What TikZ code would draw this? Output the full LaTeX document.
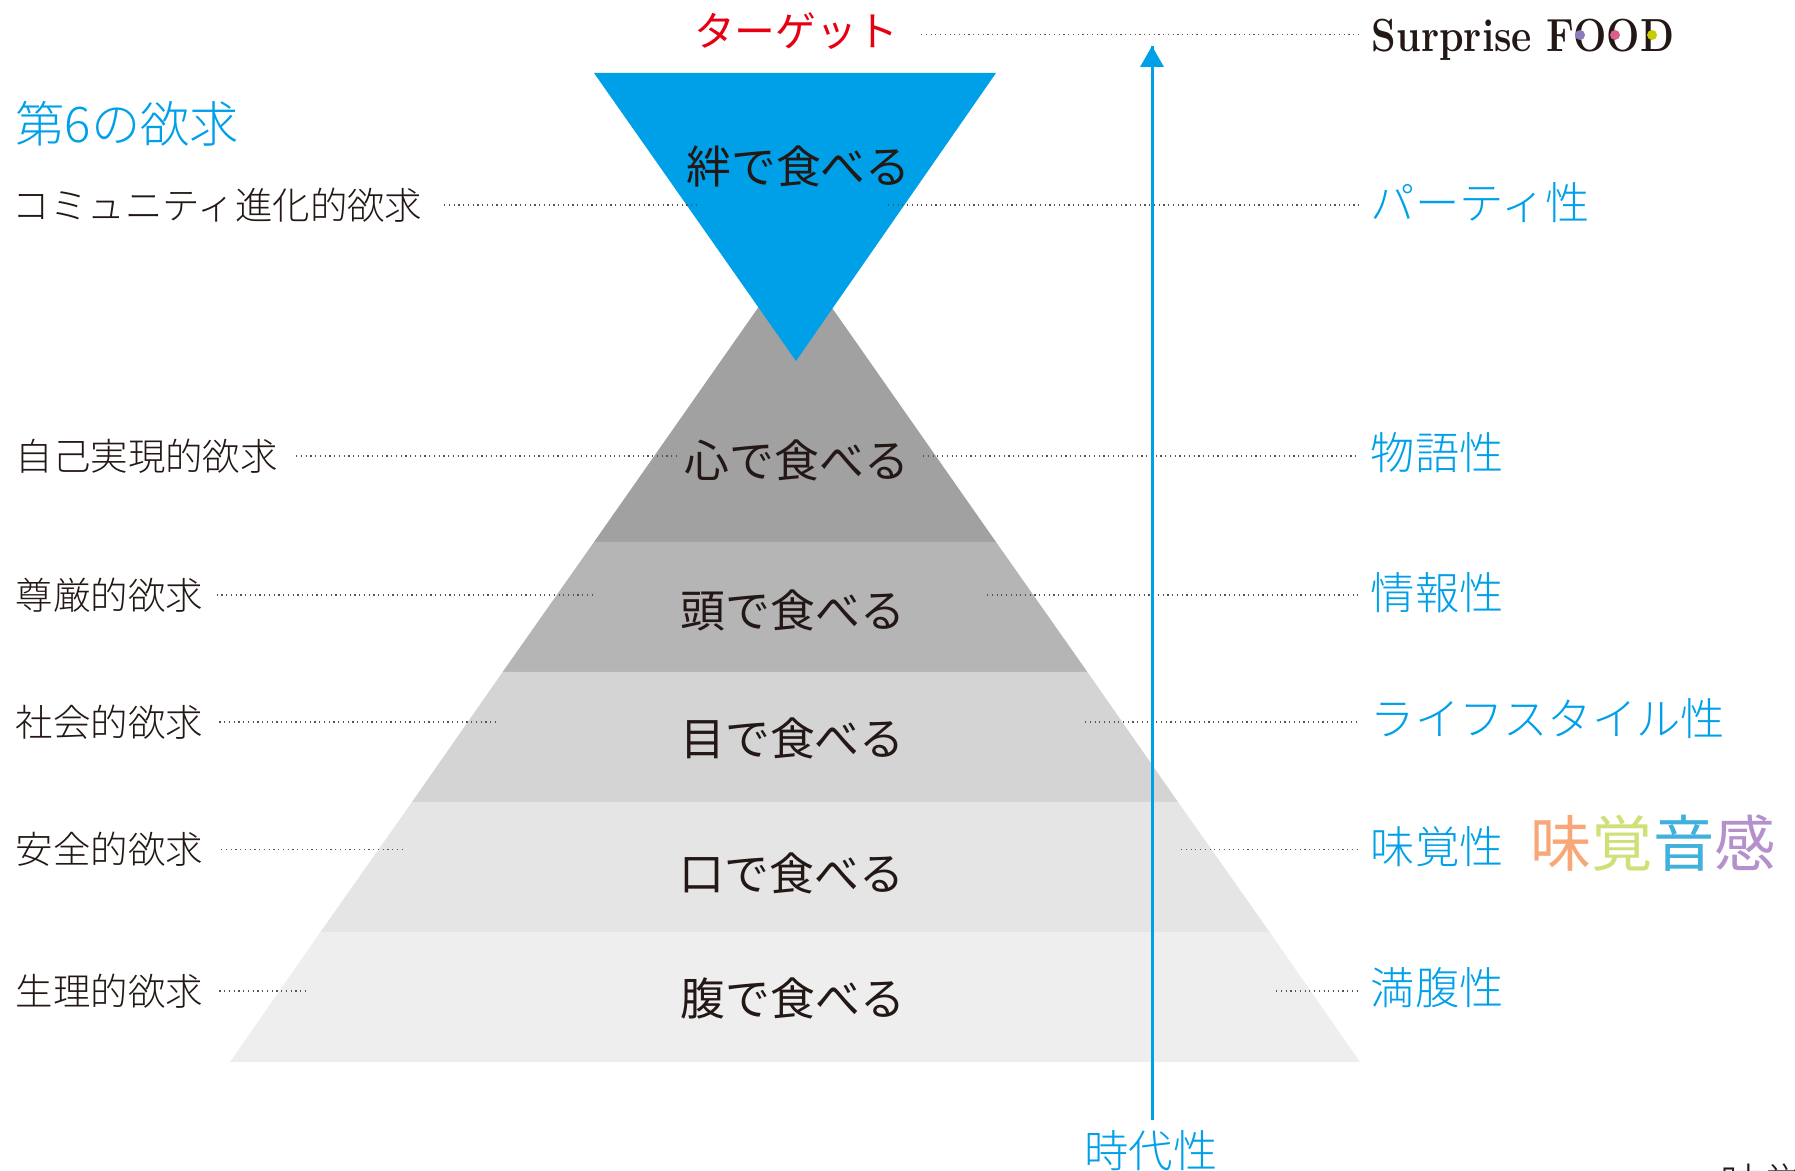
\documentclass[tikz,border=0pt]{standalone}
\usepackage{fontspec}
\usepackage{tikz}
\newfontfamily\jpfont{Noto Sans CJK JP Light}
\newfontfamily\jpmid{Noto Sans CJK JP}
\definecolor{skyblue}{HTML}{00A0E9}
\definecolor{inkblack}{HTML}{231815}
\definecolor{targetred}{HTML}{E60012}
\definecolor{dotviolet}{HTML}{8A7CBA}
\definecolor{dotpink}{HTML}{D8608A}
\definecolor{dotyellow}{HTML}{C8CC00}
\tikzset{
	leader/.style={draw=inkblack!75,line width=0.35pt,densely dotted},
	leftlabel/.style={anchor=west,inner sep=0pt,text=inkblack,font=\jpfont\fontsize{10.65pt}{12pt}\selectfont},
	rightlabel/.style={anchor=west,inner sep=0pt,text=skyblue,font=\jpfont\fontsize{12.6pt}{14pt}\selectfont},
	eatlabel/.style={inner sep=0pt,text=inkblack,font=\jpmid\fontsize{12.75pt}{14pt}\selectfont},
}
\begin{document}
\begin{tikzpicture}[x=0.01cm,y=-0.01cm]
	\useasboundingbox (0,0) rectangle (1795,1171);
	% pyramid layers, top to bottom
	\fill[fill=white!63!black] (795,255) -- (996,542) -- (594,542) -- cycle;
	\fill[fill=white!71!black] (594,542) -- (996,542) -- (1087.4,672) -- (502.6,672) -- cycle;
	\fill[fill=white!83!black] (502.6,672) -- (1087.4,672) -- (1178,802) -- (412,802) -- cycle;
	\fill[fill=white!90!black] (412,802) -- (1178,802) -- (1269.6,932) -- (320.4,932) -- cycle;
	\fill[fill=white!93.5!black] (320.4,932) -- (1269.6,932) -- (1360,1062) -- (230,1062) -- cycle;
	% inverted triangle
	\fill[fill=skyblue] (594,73) -- (996,73) -- (796,361) -- cycle;
	% texts inside the layers
	\node[eatlabel] (eatBond) at (798.5,166) {絆で食べる};
	\node[eatlabel] (eatHeart) at (797,460) {心で食べる};
	\node[eatlabel] (eatHead) at (793,610) {頭で食べる};
	\node[eatlabel] (eatEye) at (792.5,738) {目で食べる};
	\node[eatlabel] (eatMouth) at (792,873) {口で食べる};
	\node[eatlabel] (eatBelly) at (793,998) {腹で食べる};
	% left column
	\node[leftlabel,text=skyblue,font=\jpfont\fontsize{14pt}{16pt}\selectfont] (sixth) at (15,124) {第6の欲求};
	\node[leftlabel] (lbComm) at (12,205) {コミュニティ進化的欲求};
	\node[leftlabel] (lbSelf) at (15,456) {自己実現的欲求};
	\node[leftlabel] (lbRespect) at (15,595) {尊厳的欲求};
	\node[leftlabel] (lbSocial) at (15,722) {社会的欲求};
	\node[leftlabel] (lbSafety) at (15,849) {安全的欲求};
	\node[leftlabel] (lbBody) at (15,991) {生理的欲求};
	% right column
	\node[inner sep=0pt,text=targetred,font=\jpmid\fontsize{11.6pt}{13pt}\selectfont] (target) at (796,31) {ターゲット};
	\node[anchor=west,inner sep=0pt,text=inkblack,font=\bfseries\fontsize{13.2pt}{15pt}\selectfont] (logo) at (1371,40) {\scalebox{0.85}[1]{Surprise FOOD}};
	\fill[fill=dotviolet] (1580,35) circle (5);
	\fill[fill=dotpink] (1615,35) circle (5);
	\fill[fill=dotyellow] (1652,35) circle (5);
	\node[rightlabel] (rtParty) at (1370,203) {パーティ性};
	\node[rightlabel] (rtStory) at (1370,453) {物語性};
	\node[rightlabel] (rtInfo) at (1370,593) {情報性};
	\node[rightlabel] (rtLife) at (1370,719) {ライフスタイル性};
	\node[rightlabel] (rtTaste) at (1370,847) {味覚性};
	\node[rightlabel] (rtFull) at (1370,988) {満腹性};
	\node[rightlabel,anchor=center] (era) at (1151,1151) {時代性};
	\node[anchor=west,inner sep=0pt,font=\jpmid\fontsize{17.4pt}{19pt}\selectfont] (tasteword) at (1530,843) {\textcolor[HTML]{F8A878}{味}\textcolor[HTML]{CFE078}{覚}\textcolor[HTML]{40B0DC}{音}\textcolor[HTML]{B490CC}{感}};
	\node[anchor=north west,inner sep=0pt,text=inkblack,font=\jpfont\fontsize{12.5pt}{14pt}\selectfont] (cutword) at (1720,1163) {味覚};
	% ends of the dotted lines
	\coordinate (targetR) at (921,34.5);
	\coordinate (commL) at (697,205);
	\coordinate (commR) at (888,205);
	\coordinate (selfL) at (678,456);
	\coordinate (selfR) at (923,456);
	\coordinate (respectL) at (593,595);
	\coordinate (respectR) at (987,595);
	\coordinate (socialL) at (497,722);
	\coordinate (socialR) at (1085,722);
	\coordinate (safetyL) at (403,849.5);
	\coordinate (safetyR) at (1181,849.5);
	\coordinate (bodyL) at (307,991);
	\coordinate (bodyR) at (1276,991);
	% dotted lines
	\draw[leader,shorten >=3.7pt] (targetR) -- (targetR -| logo.west);
	\draw[leader,shorten <=6pt] (commL -| lbComm.east) -- (commL);
	\draw[leader,shorten <=5pt] (selfL -| lbSelf.east) -- (selfL);
	\draw[leader,shorten <=3.7pt] (respectL -| lbRespect.east) -- (respectL);
	\draw[leader,shorten <=4.5pt] (socialL -| lbSocial.east) -- (socialL);
	\draw[leader,shorten <=5pt] (safetyL -| lbSafety.east) -- (safetyL);
	\draw[leader,shorten <=4.5pt] (bodyL -| lbBody.east) -- (bodyL);
	\draw[leader,shorten >=3.4pt] (commR) -- (commR -| rtParty.west);
	\draw[leader,shorten >=3.4pt] (selfR) -- (selfR -| rtStory.west);
	\draw[leader,shorten >=3.4pt] (respectR) -- (respectR -| rtInfo.west);
	\draw[leader,shorten >=3.4pt] (socialR) -- (socialR -| rtLife.west);
	\draw[leader,shorten >=3.4pt] (safetyR) -- (safetyR -| rtTaste.west);
	\draw[leader,shorten >=3.4pt] (bodyR) -- (bodyR -| rtFull.west);
	% time arrow
	\coordinate (arrowTop) at (1152,46);
	\draw[skyblue,line width=0.85pt,shorten <=3pt] (era.north -| arrowTop) -- (arrowTop);
	\fill[fill=skyblue] (arrowTop) -- (1164,67) -- (1140,67) -- cycle;
\end{tikzpicture}
\end{document}
